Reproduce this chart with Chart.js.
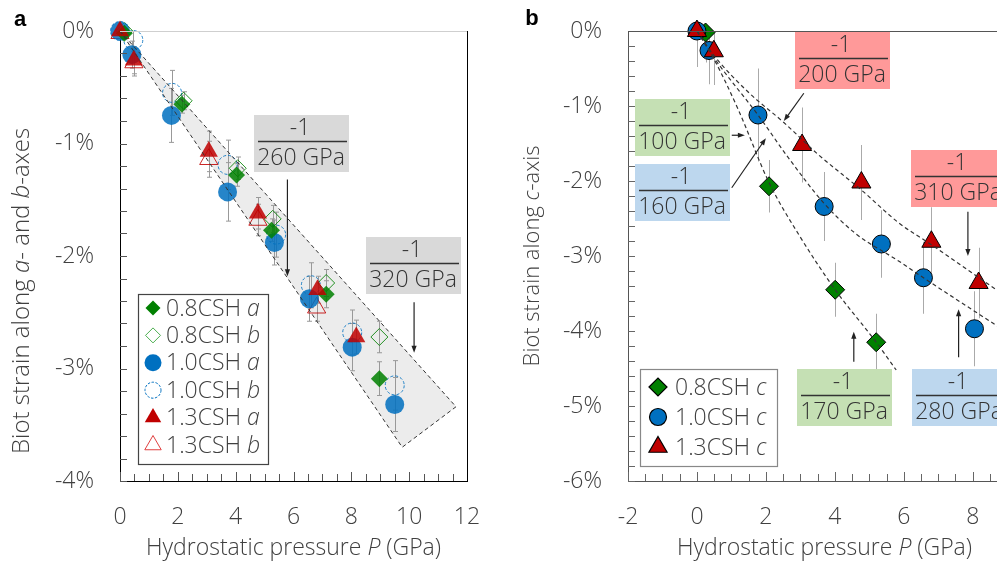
<!DOCTYPE html>
<html>
<head>
<meta charset="utf-8">
<title>Biot strain under hydrostatic pressure</title>
<script src="https://cdn.jsdelivr.net/npm/chart.js@4.4.1/dist/chart.umd.min.js"></script>
<style>
  html, body { margin: 0; padding: 0; background: #fff; overflow: hidden; }
  #wrap { position: relative; width: 997px; height: 564px; overflow: hidden; }
  #chartA { position: absolute; left: 0; top: 0; }
  #chartB { position: absolute; left: 490px; top: 0; }
</style>
</head>
<body>
<div id="wrap">
  <canvas id="chartA" width="480" height="564"></canvas>
  <canvas id="chartB" width="545" height="564"></canvas>
</div>
<script>
// ---- panel a: strain along a and b (pressure in GPa, strain in %) ----
const presA08a = [0.15, 2.14, 4.03, 5.24, 7.13, 8.97];
const strA08a  = [-0.02, -0.65, -1.28, -1.77, -2.34, -3.09];
const errA08a  = [0.05, 0.08, 0.1, 0.1, 0.12, 0.15];
const presA08b = [0.15, 2.2, 4.07, 5.28, 7.13, 8.97];
const strA08b  = [0, -0.62, -1.22, -1.67, -2.24, -2.72];
const errA08b  = [0.05, 0.08, 0.1, 0.12, 0.12, 0.14];
const presA10a = [0, 0.41, 1.78, 3.72, 5.34, 6.55, 8.03, 9.5];
const strA10a  = [0, -0.21, -0.75, -1.43, -1.88, -2.38, -2.81, -3.32];
const errA10a  = [0.05, 0.12, 0.24, 0.26, 0.2, 0.2, 0.21, 0.24];
const presA10b = [0, 0.46, 1.8, 3.72, 5.4, 6.6, 8.03, 9.5];
const strA10b  = [0, -0.08, -0.55, -1.19, -1.81, -2.26, -2.68, -3.15];
const errA10b  = [0.05, 0.1, 0.2, 0.22, 0.2, 0.2, 0.2, 0.22];
const presA13a = [0, 0.48, 3.07, 4.77, 6.83, 8.17];
const strA13a  = [0, -0.26, -1.07, -1.62, -2.3, -2.72];
const errA13a  = [0.05, 0.12, 0.18, 0.14, 0.12, 0.15];
const presA13b = [0, 0.48, 3.07, 4.77, 6.8];
const strA13b  = [-0.02, -0.28, -1.14, -1.68, -2.46];
const errA13b  = [0.05, 0.12, 0.16, 0.14, 0.12];

// shaded band between the two bounding slopes
const bandP = [0, 11.62, 9.76];
const bandStrain = [0, -3.34, -3.70];
const modA = [260, 320];

// ---- panel b: strain along c ----
const presB08 = [0.25, 2.09, 4.01, 5.2];
const strB08  = [-0.02, -2.07, -3.45, -4.15];
const errB08  = [0.4, 0.35, 0.36, 0.38];
const presB10 = [0, 0.35, 1.77, 3.69, 5.35, 6.57, 8.05];
const strB10  = [0, -0.26, -1.12, -2.34, -2.84, -3.29, -3.97];
const errB10  = [0.48, 0.45, 0.62, 0.46, 0.45, 0.48, 0.5];
const presB13 = [0, 0.49, 3.05, 4.77, 6.8, 8.17];
const strB13  = [0, -0.27, -1.52, -2.02, -2.81, -3.36];
const errB13  = [0.48, 0.45, 0.5, 0.5, 0.46, 0.47];

// dashed fit curves
const fitP08 = [0, 0.5, 1.2, 2.09, 2.96, 4.01, 5.2, 5.78];
const fitS08 = [0, -0.38, -1.05, -2.02, -2.72, -3.45, -4.15, -4.52];
const fitP10 = [0, 0.5, 1.77, 2.7, 3.69, 4.6, 5.86, 6.57, 9.0];
const fitS10 = [0, -0.36, -1.12, -1.72, -2.3, -2.7, -3.07, -3.29, -4.02];
const fitP13 = [0, 0.5, 1.5, 2.52, 3.5, 4.77, 5.86, 6.8, 9.0];
const fitS13 = [0, -0.33, -0.82, -1.22, -1.64, -2.12, -2.56, -2.85, -3.55];
const modB = [100, 160, 200, 310, 170, 280];

const FONT = '"Open Sans", "DejaVu Sans", sans-serif';
const TXT = '#404040';
const GREEN = '#008000', BLUE = '#0070c0', RED = '#c00000';
const GREEN_T = 'rgba(0,128,0,0.85)', BLUE_T = 'rgba(0,112,192,0.85)', RED_T = 'rgba(192,0,0,0.85)';

Chart.defaults.font.family = FONT;
Chart.defaults.font.weight = 300;
Chart.defaults.color = TXT;

function pts(xs, ys) {
  return xs.map((x, i) => ({ x: x, y: ys[i] }));
}

function fnt(size, italic, bold) {
  return (italic ? 'italic ' : '') + (bold ? 'bold ' : '300 ') + size + 'px ' + FONT;
}

// text made of plain and italic pieces
function drawParts(ctx, parts, x, y, align, size, rot) {
  ctx.save();
  ctx.translate(x, y);
  if (rot) ctx.rotate(rot);
  ctx.textBaseline = 'middle';
  ctx.textAlign = 'left';
  ctx.fillStyle = TXT;
  const widths = parts.map(p => { ctx.font = fnt(size, p[1]); return ctx.measureText(p[0]).width; });
  let cx = align === 'center' ? -widths.reduce((a, b) => a + b, 0) / 2 : 0;
  parts.forEach((p, i) => {
    ctx.font = fnt(size, p[1]);
    ctx.fillText(p[0], cx, 0);
    cx += widths[i];
  });
  ctx.restore();
}

function arrow(ctx, x1, y1, x2, y2) {
  const a = Math.atan2(y2 - y1, x2 - x1), L = 7, W = 2.6;
  const c = Math.cos(a), s = Math.sin(a);
  ctx.beginPath();
  ctx.moveTo(x1, y1);
  ctx.lineTo(x2 - L * 0.7 * c, y2 - L * 0.7 * s);
  ctx.stroke();
  ctx.beginPath();
  ctx.moveTo(x2, y2);
  ctx.lineTo(x2 - L * c + W * s, y2 - L * s - W * c);
  ctx.lineTo(x2 - L * c - W * s, y2 - L * s + W * c);
  ctx.closePath();
  ctx.fill();
}

// inward tick marks and the extra frame lines
const frame = {
  id: 'frame',
  afterDraw(chart, args, o) {
    const ctx = chart.ctx, a = chart.chartArea;
    const xs = chart.scales.x, ys = chart.scales.y;
    ctx.save();
    ctx.lineWidth = 1;
    ctx.strokeStyle = o.tickColor;
    const ny = Math.round((ys.max - ys.min) / o.yStep);
    for (let i = 0; i <= ny; i++) {
      const y = Math.round(ys.getPixelForValue(ys.min + i * o.yStep)) + 0.5;
      ctx.beginPath(); ctx.moveTo(a.left, y); ctx.lineTo(a.left + o.tickLen, y); ctx.stroke();
    }
    const nx = Math.floor((xs.max - xs.min) / o.xStep + 1e-6);
    for (let i = 0; i <= nx; i++) {
      const x = Math.round(xs.getPixelForValue(xs.min + i * o.xStep)) + 0.5;
      const len = (xs.min + i * o.xStep) % 2 === 0 ? o.tickLen + 2 : o.tickLen;
      ctx.beginPath(); ctx.moveTo(x, a.bottom); ctx.lineTo(x, a.bottom - len); ctx.stroke();
    }
    if (o.top) {
      ctx.strokeStyle = o.top;
      ctx.beginPath(); ctx.moveTo(a.left, a.top + 0.5); ctx.lineTo(a.right, a.top + 0.5); ctx.stroke();
    }
    if (o.right) {
      ctx.strokeStyle = o.right;
      ctx.beginPath(); ctx.moveTo(a.right + 0.5, a.top); ctx.lineTo(a.right + 0.5, a.bottom); ctx.stroke();
    }
    ctx.restore();
  }
};

// vertical error bars under the markers
const errorBars = {
  id: 'errorBars',
  beforeDatasetsDraw(chart, args, o) {
    const ctx = chart.ctx, ys = chart.scales.y, a = chart.chartArea;
    ctx.save();
    ctx.beginPath();
    ctx.rect(a.left, a.top, a.right - a.left, a.bottom - a.top);
    ctx.clip();
    ctx.strokeStyle = o.color;
    ctx.lineWidth = 1;
    chart.data.datasets.forEach((ds, i) => {
      if (!ds.errors) return;
      chart.getDatasetMeta(i).data.forEach((pt, j) => {
        const v = ds.data[j].y, e = ds.errors[j];
        const y1 = ys.getPixelForValue(v + e), y2 = ys.getPixelForValue(v - e);
        const x = Math.round(pt.x) + 0.5;
        ctx.beginPath();
        ctx.moveTo(x, y1); ctx.lineTo(x, y2);
        if (o.cap) {
          ctx.moveTo(x - o.cap, y1); ctx.lineTo(x + o.cap, y1);
          ctx.moveTo(x - o.cap, y2); ctx.lineTo(x + o.cap, y2);
        }
        ctx.stroke();
      });
    });
    ctx.restore();
  },
  beforeDatasetDraw(chart, args) {
    chart.ctx.save();
    const ds = chart.data.datasets[args.index];
    if (ds.dashed) chart.ctx.setLineDash(ds.dashed);
  },
  afterDatasetDraw(chart) {
    chart.ctx.restore();
  }
};

// grey band of panel a
const band = {
  id: 'band',
  path(chart) {
    const ctx = chart.ctx, xs = chart.scales.x, ys = chart.scales.y;
    ctx.beginPath();
    bandP.forEach((p, i) => {
      const x = xs.getPixelForValue(p), y = ys.getPixelForValue(bandStrain[i]);
      if (i === 0) ctx.moveTo(x, y); else ctx.lineTo(x, y);
    });
    ctx.closePath();
  },
  beforeDatasetsDraw(chart) {
    const ctx = chart.ctx;
    ctx.save();
    this.path(chart);
    ctx.fillStyle = '#ececec';
    ctx.fill();
    ctx.restore();
  },
  afterDatasetsDraw(chart) {
    const ctx = chart.ctx;
    ctx.save();
    this.path(chart);
    ctx.setLineDash([4, 3]);
    ctx.strokeStyle = '#333';
    ctx.lineWidth = 1;
    ctx.stroke();
    ctx.restore();
  }
};

// "-1 / K GPa" boxes with their arrows
const notes = {
  id: 'notes',
  afterDatasetsDraw(chart, args, o) {
    const ctx = chart.ctx, xs = chart.scales.x, ys = chart.scales.y;
    ctx.save();
    ctx.strokeStyle = '#222';
    ctx.fillStyle = '#222';
    ctx.lineWidth = 1.2;
    o.arrows.forEach(r => arrow(ctx, xs.getPixelForValue(r[0]), ys.getPixelForValue(r[1]),
                                     xs.getPixelForValue(r[2]), ys.getPixelForValue(r[3])));
    o.boxes.forEach(b => {
      const cx = xs.getPixelForValue(b.x), cy = ys.getPixelForValue(b.y);
      const l = Math.round(cx - 47.5), t = Math.round(cy - 28.5);
      ctx.fillStyle = b.fill;
      ctx.fillRect(l, t, 95, 57);
      ctx.fillStyle = '#333';
      ctx.font = fnt(23);
      ctx.textAlign = 'center';
      ctx.textBaseline = 'middle';
      ctx.fillText('-1', l + 46, t + 13);
      ctx.fillText(b.k + ' GPa', l + 47, t + 43);
      ctx.strokeStyle = '#333';
      ctx.lineWidth = 1.5;
      ctx.beginPath(); ctx.moveTo(l + 4, t + 26.5); ctx.lineTo(l + 93, t + 26.5); ctx.stroke();
    });
    ctx.restore();
  }
};

// boxed legend inside the plot
const legendBox = {
  id: 'legendBox',
  afterDraw(chart, args, o) {
    const ctx = chart.ctx;
    const items = chart.data.datasets.filter(d => d.keyColor);
    ctx.save();
    ctx.fillStyle = '#fff';
    ctx.fillRect(o.left, o.top, o.width, o.height);
    ctx.strokeStyle = o.border;
    ctx.lineWidth = 1.2;
    ctx.strokeRect(o.left + 0.5, o.top + 0.5, o.width, o.height);
    items.forEach((d, i) => {
      const y = o.first + i * o.step;
      ctx.save();
      ctx.fillStyle = d.keyOpen ? 'rgba(0,0,0,0)' : d.keyColor;
      ctx.strokeStyle = d.keyOpen ? d.keyColor : '#000';
      if (d.dashed) ctx.setLineDash([2.5, 1.5]);
      ctx.lineWidth = d.keyBorder;
      Chart.helpers.drawPoint(ctx, { pointStyle: d.pointStyle, radius: d.keyRadius, rotation: 0, borderWidth: d.keyBorder }, o.markerX, y);
      ctx.restore();
      const cut = d.label.lastIndexOf(' ');
      drawParts(ctx, [[d.label.slice(0, cut + 1), false], [d.label.slice(cut + 1), true]], o.textX, y + 1, 'left', 23);
    });
    ctx.restore();
  }
};

// axis titles and panel letter
const titles = {
  id: 'titles',
  afterDraw(chart, args, o) {
    const ctx = chart.ctx, a = chart.chartArea;
    drawParts(ctx, o.x, (a.left + a.right) / 2, o.xY, 'center', 23);
    drawParts(ctx, o.y, o.yX, o.yY, 'center', o.ySize, -Math.PI / 2);
    ctx.save();
    ctx.font = 'bold 22px "Liberation Sans", Arial, sans-serif';
    ctx.fillStyle = '#000';
    ctx.textAlign = 'center';
    ctx.textBaseline = 'middle';
    ctx.fillText(o.tag, o.tagX, o.tagY);
    ctx.restore();
  }
};

// fixed axis sizes, no extra room reserved for overhanging labels
function fixBox(s, w, h) {
  if (w) s.width = w;
  if (h) s.height = h;
  s.paddingTop = 0; s.paddingBottom = 0; s.paddingLeft = 0; s.paddingRight = 0;
}

function xAxis(min, max, border) {
  return {
    type: 'linear', min: min, max: max,
    ticks: { stepSize: 2, padding: 23, includeBounds: false, font: { size: 23 }, color: TXT },
    grid: { display: false, drawTicks: false },
    border: { display: true, color: border, width: 1 },
    afterFit(s) { fixBox(s, 0, 83); }
  };
}

function yAxis(min, max, width, border) {
  return {
    type: 'linear', min: min, max: max,
    ticks: { stepSize: 1, padding: 26, font: { size: 23 }, color: TXT, callback: v => v + '%' },
    grid: { display: false, drawTicks: false },
    border: { display: true, color: border, width: 1 },
    afterFit(s) { fixBox(s, width, 0); }
  };
}

const baseOpts = {
  responsive: false,
  animation: false,
  devicePixelRatio: 1,
  events: []
};

// Panel a
new Chart(document.getElementById('chartA'), {
  type: 'scatter',
  data: {
    datasets: [
      { label: '0.8CSH a', data: pts(presA08a, strA08a), errors: errA08a, pointStyle: 'rectRot', pointRadius: 8.5,
        backgroundColor: GREEN_T, borderWidth: 0, clip: false, order: 3,
        keyColor: GREEN, keyRadius: 7.5, keyBorder: 0 },
      { label: '0.8CSH b', data: pts(presA08b, strA08b), errors: errA08b, pointStyle: 'rectRot', pointRadius: 8.5,
        backgroundColor: 'rgba(0,0,0,0)', borderColor: GREEN_T, borderWidth: 1, clip: false, order: 6,
        keyColor: '#4caf50', keyOpen: true, keyRadius: 7.5, keyBorder: 1 },
      { label: '1.0CSH a', data: pts(presA10a, strA10a), errors: errA10a, pointStyle: 'circle', pointRadius: 9.5,
        backgroundColor: BLUE_T, borderWidth: 0, clip: false, order: 4,
        keyColor: BLUE, keyRadius: 8.5, keyBorder: 0 },
      { label: '1.0CSH b', data: pts(presA10b, strA10b), errors: errA10b, pointStyle: 'circle', pointRadius: 9.5,
        backgroundColor: 'rgba(0,0,0,0)', borderColor: BLUE_T, borderWidth: 1, dashed: [3, 2], clip: false, order: 7,
        keyColor: BLUE, keyOpen: true, keyRadius: 8, keyBorder: 1 },
      { label: '1.3CSH a', data: pts(presA13a, strA13a), errors: errA13a, pointStyle: 'triangle', pointRadius: 10.5,
        backgroundColor: RED_T, borderWidth: 0, clip: false, order: 2,
        keyColor: RED, keyRadius: 9.5, keyBorder: 0 },
      { label: '1.3CSH b', data: pts(presA13b, strA13b), errors: errA13b, pointStyle: 'triangle', pointRadius: 10.5,
        backgroundColor: 'rgba(0,0,0,0)', borderColor: RED_T, borderWidth: 1, clip: false, order: 5,
        keyColor: '#e04040', keyOpen: true, keyRadius: 9.5, keyBorder: 1 }
    ]
  },
  options: Object.assign({}, baseOpts, {
    layout: { padding: { left: 0, top: 31, right: 13, bottom: 0 } },
    scales: { x: xAxis(0, 12, '#000'), y: yAxis(-4, 0, 120, '#000') },
    plugins: {
      legend: { display: false },
      tooltip: { enabled: false },
      frame: { tickColor: '#555', xStep: 0.5, yStep: 0.2, tickLen: 7, top: '#cfcfcf', right: '#000' },
      errorBars: { color: '#999', cap: 2.5 },
      notes: {
        boxes: [
          { x: 6.28, y: -1.0, k: modA[0], fill: '#d9d9d9' },
          { x: 10.16, y: -2.08, k: modA[1], fill: '#d9d9d9' }
        ],
        arrows: [[5.79, -1.32, 5.79, -2.18], [10.17, -2.41, 10.17, -2.86]]
      },
      legendBox: { left: 138, top: 294, width: 130, height: 170, first: 308, step: 27.4, markerX: 153, textX: 166, border: '#444' },
      titles: {
        x: [['Hydrostatic pressure ', false], ['P', true], [' (GPa)', false]], xY: 548,
        y: [['Biot strain along ', false], ['a', true], ['- and ', false], ['b', true], ['-axes', false]],
        yX: 22, yY: 291, ySize: 24,
        tag: 'a', tagX: 20, tagY: 20
      }
    }
  }),
  plugins: [band, errorBars, frame, notes, legendBox, titles]
});

// Panel b
const fitLine = { type: 'scatter', showLine: true, pointRadius: 0, borderColor: '#333', borderWidth: 1.2,
                  borderDash: [4, 3], cubicInterpolationMode: 'monotone', order: 0 };

new Chart(document.getElementById('chartB'), {
  type: 'scatter',
  data: {
    datasets: [
      { label: '0.8CSH c', data: pts(presB08, strB08), errors: errB08, pointStyle: 'rectRot', pointRadius: 9.5,
        backgroundColor: GREEN, borderColor: '#000', borderWidth: 1, clip: false, order: 3,
        keyColor: GREEN, keyRadius: 9, keyBorder: 1.2 },
      { label: '1.0CSH c', data: pts(presB10, strB10), errors: errB10, pointStyle: 'circle', pointRadius: 9,
        backgroundColor: BLUE, borderColor: '#000', borderWidth: 1, clip: false, order: 2,
        keyColor: BLUE, keyRadius: 8.5, keyBorder: 1.2 },
      { label: '1.3CSH c', data: pts(presB13, strB13), errors: errB13, pointStyle: 'triangle', pointRadius: 11,
        backgroundColor: RED, borderColor: '#000', borderWidth: 1, clip: false, order: 1,
        keyColor: RED, keyRadius: 10.5, keyBorder: 1.2 },
      Object.assign({ label: 'fit 0.8', data: pts(fitP08, fitS08) }, fitLine),
      Object.assign({ label: 'fit 1.0', data: pts(fitP10, fitS10) }, fitLine),
      Object.assign({ label: 'fit 1.3', data: pts(fitP13, fitS13) }, fitLine)
    ]
  },
  options: Object.assign({}, baseOpts, {
    layout: { padding: { left: 0, top: 31, right: 14, bottom: 0 } },
    scales: { x: xAxis(-2, 9.4, '#555'), y: yAxis(-6, 0, 138, '#555') },
    plugins: {
      legend: { display: false },
      tooltip: { enabled: false },
      frame: { tickColor: '#666', xStep: 0.5, yStep: 0.2, tickLen: 7, top: '#555', right: null },
      errorBars: { color: '#aaa', cap: 0 },
      notes: {
        boxes: [
          { x: -0.42, y: -1.29, k: modB[0], fill: '#c5e0b4' },
          { x: -0.42, y: -2.15, k: modB[1], fill: '#bdd7ee' },
          { x: 4.22, y: -0.39, k: modB[2], fill: '#ff9999' },
          { x: 7.58, y: -1.97, k: modB[3], fill: '#ff9999' },
          { x: 4.28, y: -4.89, k: modB[4], fill: '#c5e0b4' },
          { x: 7.61, y: -4.89, k: modB[5], fill: '#bdd7ee' }
        ],
        arrows: [
          [1.01, -1.39, 1.39, -1.39],
          [1.01, -2.09, 2.0, -1.43],
          [3.1, -0.83, 2.52, -1.2],
          [7.86, -2.41, 7.86, -3.0],
          [4.55, -4.41, 4.55, -4.01],
          [7.59, -4.35, 7.59, -3.71]
        ]
      },
      legendBox: { left: 150, top: 369, width: 137, height: 97, first: 387, step: 30, markerX: 168, textX: 185, border: '#888' },
      titles: {
        x: [['Hydrostatic pressure ', false], ['P', true], [' (GPa)', false]], xY: 548,
        y: [['Biot strain along ', false], ['c', true], ['-axis', false]],
        yX: 43, yY: 256, ySize: 22,
        tag: 'b', tagX: 42, tagY: 19
      }
    }
  }),
  plugins: [errorBars, frame, notes, legendBox, titles]
});
</script>
</body>
</html>
